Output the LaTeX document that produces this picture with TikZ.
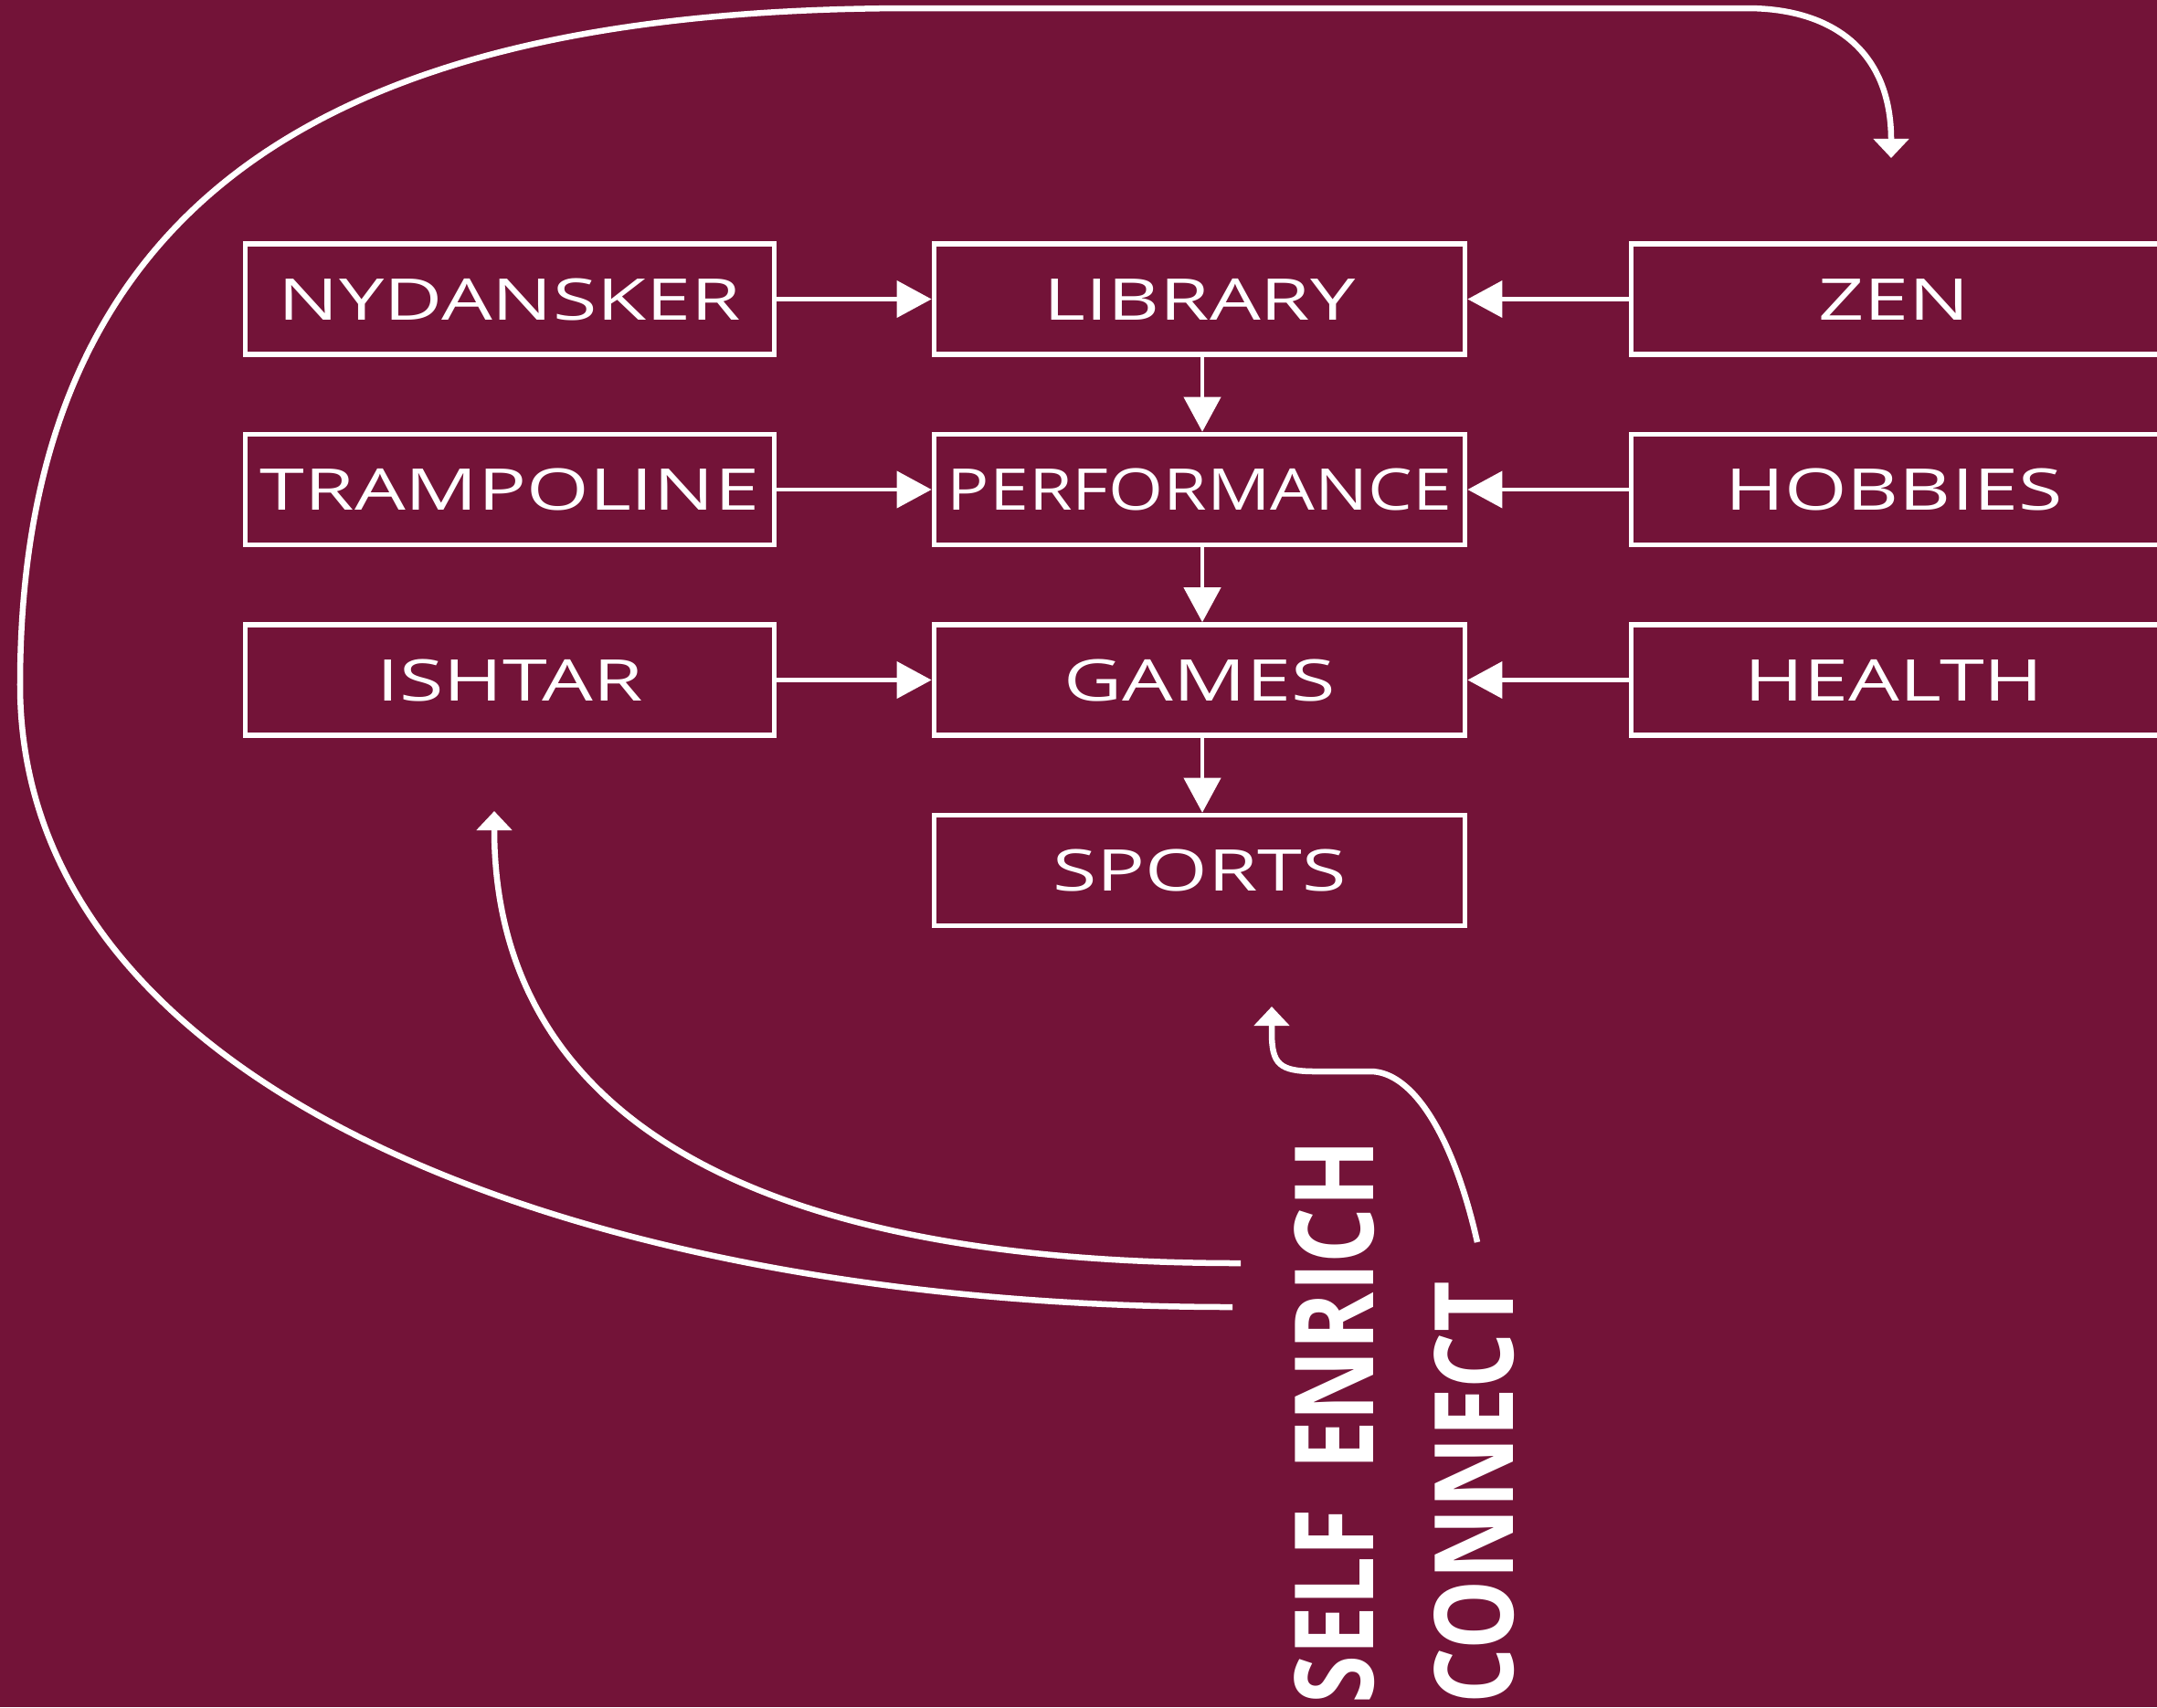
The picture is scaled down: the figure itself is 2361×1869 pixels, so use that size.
\documentclass[tikz,border=0pt]{standalone}
\usepackage{fontspec}
\usepackage{graphicx}
\usetikzlibrary{arrows.meta}
\newfontfamily\boxfont[FakeStretch=1.40]{Open Sans}
\newfontfamily\bigfont[FakeStretch=0.8]{Open Sans}
\definecolor{bgmaroon}{RGB}{115,19,56}
\newcommand{\rboxtxt}[1]{\hspace*{-0.65cm}#1}
\begin{document}
\begin{tikzpicture}[x=0.01cm,y=-0.01cm,
  box/.style={draw=white, line width=0.055cm, minimum width=5.81cm, minimum height=1.21cm,
    inner sep=0pt, text=white, font=\boxfont\fontsize{17.9}{20}\selectfont,
    text height=0.45cm, text depth=0pt},
  lbox/.style={box, minimum width=5.79cm},
  rbox/.style={box, minimum width=6.4cm},
  link/.style={draw=white, line width=0.042cm, -{Triangle[length=0.38cm,width=0.40cm]}},
  bigcurve/.style={draw=white, line width=0.065cm, -{Triangle[length=0.21cm,width=0.38cm]}},
  bigtext/.style={text=white, font=\bigfont\bfseries\fontsize{34.1}{36}\selectfont,
    rotate=90, anchor=base west, inner sep=0pt}
]
\fill[bgmaroon] (0,0) rectangle (2361,1869);
\useasboundingbox (0,0) rectangle (2361,1869);
\clip (0,0) rectangle (2361,1869);

% left column
\node[lbox] (nyd) at (558,327.5) {NYDANSKER};
\node[lbox] (tra) at (558,536) {TRAMPOLINE};
\node[lbox] (ish) at (558,744.5) {ISHTAR};
% middle column
\node[box] (lib) at (1313,327.5) {LIBRARY};
\node[box] (perf) at (1313,536) {\scalebox{0.875}[1]{PERFORMANCE}};
\node[box] (gam) at (1313,744.5) {GAMES};
\node[box] (spo) at (1313,953) {SPORTS};
% right column
\node[rbox] (zen) at (2105.5,327.5) {\rboxtxt{ZEN}};
\node[rbox] (hob) at (2105.5,536) {\rboxtxt{HOBBIES}};
\node[rbox] (hea) at (2105.5,744.5) {\rboxtxt{HEALTH}};

% connectors
\draw[link] (nyd.east) -- (lib.west);
\draw[link] (tra.east) -- (perf.west);
\draw[link] (ish.east) -- (gam.west);
\draw[link] (zen.west) -- (lib.east);
\draw[link] (hob.west) -- (perf.east);
\draw[link] (hea.west) -- (gam.east);
\draw[link] ([xshift=0.03cm]lib.south) -- ([xshift=0.03cm]perf.north);
\draw[link] ([xshift=0.03cm]perf.south) -- ([xshift=0.03cm]gam.north);
\draw[link] ([xshift=0.03cm]gam.south) -- ([xshift=0.03cm]spo.north);

% big curves
\coordinate (aS) at (1349,1431);
\coordinate (aT) at (2070,173);
\draw[bigcurve] (aS) .. controls (649,1431) and (22,1200) .. (22,750)
  .. controls (22,190) and (400,9) .. (1000,9) -- (1912,9)
  .. controls (2005,9) and (2070,55) .. (aT);

\coordinate (bS) at (1358,1383);
\coordinate (bT) at (541,888);
\draw[bigcurve] (bS) .. controls (697,1383) and (541,1140) .. (bT);

\coordinate (cS) at (1617,1360);
\coordinate (cT) at (1392,1102);
\draw[bigcurve] (cS) .. controls (1590,1240) and (1545,1173) .. (1500,1173) -- (1440,1173)
  .. controls (1400,1173) and (1392,1165) .. (1392,1130) -- (cT);

% vertical labels
\node[bigtext] (selfenrich) at (1503,1866) {SELF\hspace{0.42cm}ENRICH};
\node[bigtext] (connect) at (1656,1866) {CONNECT};
\end{tikzpicture}
\end{document}
